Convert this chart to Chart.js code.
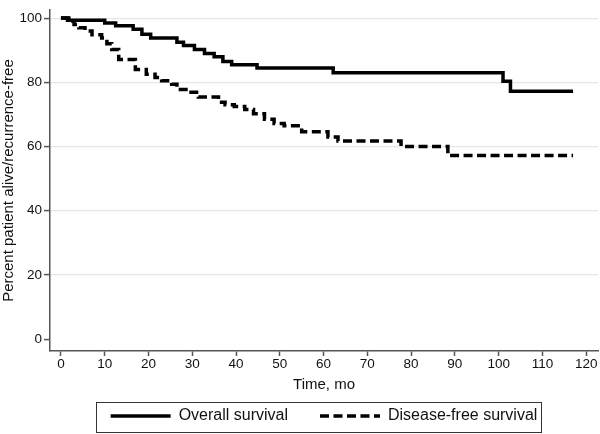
<!DOCTYPE html>
<html>
<head>
<meta charset="utf-8">
<script src="https://cdn.jsdelivr.net/npm/chart.js@4"></script>
<style>
  html, body { margin: 0; padding: 0; background: #fff; }
  #wrap { position: relative; width: 600px; height: 434px; }
</style>
</head>
<body>
<div id="wrap"><canvas id="km"></canvas></div>
<script>
"use strict";
// Kaplan-Meier steps (months, percent)
const osTimes   = [0, 1.5, 10, 12.5, 16.5, 18.5, 20.5, 26.5, 28, 30.5, 32.8, 35, 37, 39, 44.8, 62.2, 101, 102.7, 117];
const osValues  = [100, 99.3, 98.5, 97.6, 96.5, 95.0, 93.8, 92.5, 91.5, 90.2, 89.0, 88.0, 86.5, 85.5, 84.5, 83.0, 80.3, 77.2, 77.2];
const dfsTimes  = [0, 1.8, 3, 4.1, 5.5, 7.1, 9.3, 10.5, 11.6, 13.2, 17, 19.5, 21.5, 23, 25.3, 26.5, 29.2, 31.4, 36, 37.5, 39.6, 42, 44, 46.5, 48.7, 51, 55, 61, 63.3, 77.7, 88.4, 117];
const dfsValues = [100, 99.0, 98.0, 97.0, 96.0, 94.8, 93.8, 92.0, 90.2, 87.1, 84.0, 82.5, 81.5, 80.5, 79.4, 77.8, 76.9, 75.4, 73.8, 73.0, 72.5, 71.5, 70.2, 68.5, 67.2, 66.5, 64.6, 63.0, 61.7, 60.0, 57.2, 57.2];
const xTicks = [0, 10, 20, 30, 40, 50, 60, 70, 80, 90, 100, 110, 120];
const yTicks = [0, 20, 40, 60, 80, 100];

const toPoints = (t, v) => t.map((x, i) => ({x: x, y: v[i]}));
const axisColor = "#555";
const family = "'Liberation Sans', Arial, sans-serif";
const tickFont = {family: family, size: 13.5};
const titleFont = {family: family, size: 15};

// box round the legend, as in the figure
const legendBorder = {
	id: "legendBorder",
	afterDraw: function (chart) {
		const lg = chart.legend;
		if (!lg) { return; }
		const mid = Math.round((lg.top + lg.bottom) / 2);
		const ctx = chart.ctx;
		ctx.save();
		ctx.strokeStyle = "#333";
		ctx.lineWidth = 1;
		ctx.strokeRect(96.5, mid - 14.5, 445, 30);
		ctx.restore();
	}
};

new Chart(document.getElementById("km"), {
	type: "line",
	data: {
		datasets: [{
			label: "Overall survival",
			data: toPoints(osTimes, osValues),
			borderColor: "#000",
			borderWidth: 3.5,
			stepped: "before",
			pointRadius: 0,
			fill: false
		}, {
			label: "Disease-free survival",
			data: toPoints(dfsTimes, dfsValues),
			borderColor: "#000",
			borderWidth: 3.5,
			borderDash: [9, 4.5],
			stepped: "before",
			pointRadius: 0,
			fill: false
		}]
	},
	options: {
		responsive: true,
		maintainAspectRatio: false,
		animation: false,
		layout: {padding: {top: 1, right: 2, left: 0, bottom: 0}},
		scales: {
			x: {
				type: "linear",
				min: -2.5,
				max: 122.7,
				afterBuildTicks: function (scale) {
					scale.ticks = xTicks.map(v => ({value: v}));
				},
				afterFit: function (scale) {
					scale.height = 49;
				},
				grid: {drawOnChartArea: false, drawTicks: true, tickLength: 5, tickColor: axisColor, tickWidth: 1.5},
				border: {display: true, color: axisColor, width: 1.5},
				ticks: {color: "#111", font: tickFont, maxRotation: 0, padding: 0},
				title: {display: true, text: "Time, mo", color: "#111", font: titleFont, padding: {top: 0, bottom: 6}}
			},
			y: {
				type: "linear",
				min: -3.7,
				max: 102.5,
				afterBuildTicks: function (scale) {
					scale.ticks = yTicks.map(v => ({value: v}));
				},
				afterFit: function (scale) {
					scale.width = 50;
				},
				grid: {
					color: ctx => (ctx.tick && ctx.tick.value > 0 ? "#e6e6e6" : "rgba(0,0,0,0)"),
					lineWidth: 1.2,
					drawTicks: true,
					tickLength: 6,
					tickColor: axisColor,
					tickWidth: 1.5
				},
				border: {display: true, color: axisColor, width: 1.5},
				ticks: {color: "#111", font: tickFont, padding: 2},
				title: {display: true, text: "Percent patient alive/recurrence-free", color: "#111", font: titleFont, padding: {top: 0, bottom: 0}}
			}
		},
		plugins: {
			legend: {
				display: true,
				position: "bottom",
				fullSize: false,
				labels: {
					usePointStyle: true,
					pointStyle: "line",
					pointStyleWidth: 60,
					boxHeight: 10,
					color: "#111",
					font: {family: family, size: 16},
					padding: 8,
					generateLabels: function (chart) {
						const items = Chart.defaults.plugins.legend.labels.generateLabels(chart);
						items.forEach(function (item) {
							const ds = chart.data.datasets[item.datasetIndex];
							item.lineDash = ds.borderDash || [];
							item.lineWidth = 3.5;
							item.strokeStyle = "#000";
							// wider gap after the first entry
							if (item.datasetIndex === 0) { item.text += "\u2003\u2002"; }
						});
						return items;
					}
				}
			},
			tooltip: {enabled: false}
		}
	},
	plugins: [legendBorder]
});
</script>
</body>
</html>
